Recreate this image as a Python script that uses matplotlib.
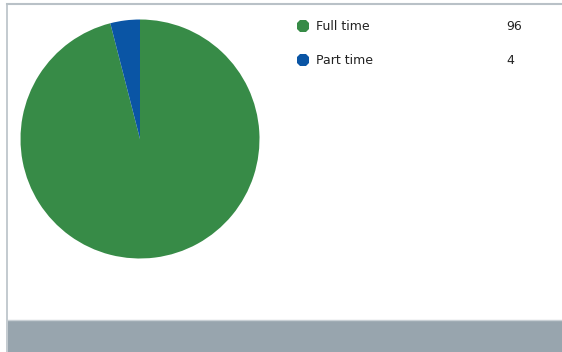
import matplotlib
matplotlib.use("Agg")
import matplotlib.pyplot as plt
from matplotlib.patches import Rectangle
from matplotlib.lines import Line2D

categories = ["Full time", "Part time"]
values = [96, 4]
colors = ["#378b47", "#0a55a5"]

W, H = 562, 352
fig = plt.figure(figsize=(W / 100, H / 100), dpi=100)
fig.patch.set_facecolor("white")

def fx(px):
    return px / W

def fy(py):
    return 1 - py / H

# footer band
band = Rectangle((fx(8), fy(352)), 1 - fx(8), fy(320) - fy(352),
                 transform=fig.transFigure, facecolor="#98a5ae",
                 edgecolor="none", zorder=1)
fig.add_artist(band)
# panel edges: top and left
fig.add_artist(Line2D([fx(7), 1], [fy(4), fy(4)], color="#b9c1c7",
                      linewidth=1.5, transform=fig.transFigure, zorder=2))
fig.add_artist(Line2D([fx(7.3), fx(7.3)], [fy(4), 0], color="#b9c1c7",
                      linewidth=1.2, transform=fig.transFigure, zorder=2))
fig.add_artist(Line2D([fx(8), 1], [fy(320), fy(320)], color="#c9d0d5",
                      linewidth=1.0, transform=fig.transFigure, zorder=2))

# pie
cx, cy, r = 140, 139, 119.5
ax = fig.add_axes([fx(cx - r), fy(cy + r), 2 * r / W, 2 * r / H])
ax.pie(values, colors=colors, startangle=90, counterclock=False,
       wedgeprops=dict(linewidth=0))
ax.set_xlim(-1, 1)
ax.set_ylim(-1, 1)
ax.set_aspect("equal")
ax.axis("off")

# legend with values
rows_y = [26, 60]
for name, val, col, yy in zip(categories, values, colors, rows_y):
    fig.add_artist(Line2D([fx(303)], [fy(yy)], marker="8", markersize=10,
                          color=col, markeredgewidth=0,
                          transform=fig.transFigure))
    fig.text(fx(316), fy(yy), name, fontsize=9, va="center", ha="left",
             color="#222222", family="DejaVu Sans")
    fig.text(fx(506), fy(yy), str(val), fontsize=9, va="center", ha="left",
             color="#222222", family="DejaVu Sans")

fig.savefig("out.png", dpi=100)
